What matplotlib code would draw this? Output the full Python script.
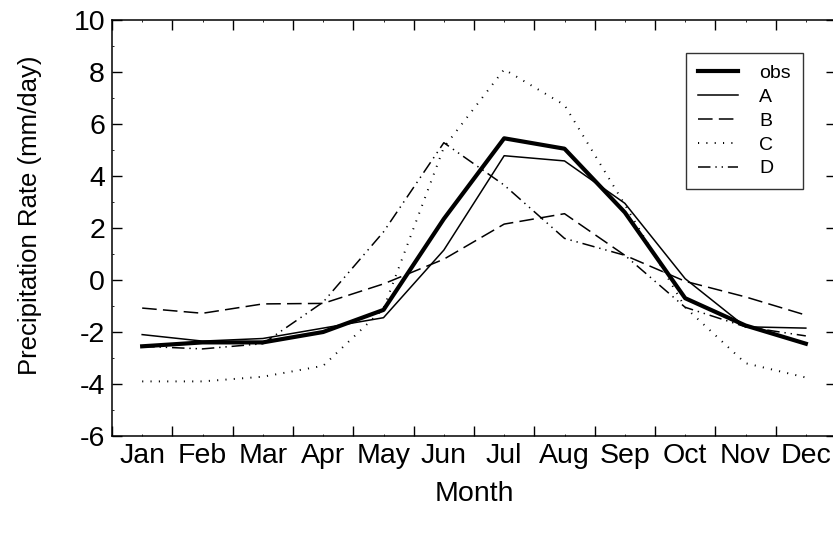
import matplotlib
matplotlib.use('Agg')
import matplotlib.pyplot as plt
import numpy as np

months = ['Jan', 'Feb', 'Mar', 'Apr', 'May', 'Jun',
          'Jul', 'Aug', 'Sep', 'Oct', 'Nov', 'Dec']
obs = [-2.55, -2.4, -2.4, -2.0, -1.15, 2.35, 5.45, 5.05, 2.6, -0.7, -1.75, -2.45]
A = [-2.1, -2.35, -2.25, -1.85, -1.45, 1.15, 4.78, 4.58, 2.95, 0.05, -1.8, -1.85]
B = [-1.08, -1.28, -0.92, -0.9, -0.15, 0.8, 2.15, 2.55, 0.95, -0.05, -0.65, -1.35]
C = [-3.9, -3.9, -3.72, -3.3, -1.1, 5.1, 8.1, 6.73, 2.9, -1.05, -3.2, -3.75]
D = [-2.55, -2.65, -2.45, -0.85, 1.85, 5.28, 3.65, 1.6, 0.95, -1.05, -1.8, -2.15]

plt.rcParams['font.family'] = ['Liberation Sans', 'DejaVu Sans']
plt.rcParams['lines.scale_dashes'] = False
plt.rcParams['axes.unicode_minus'] = False

fig = plt.figure(figsize=(8.33, 5.33), dpi=100)
ax = fig.add_axes([112 / 833, 1 - 436 / 533, 724 / 833, 416 / 533])

x = np.arange(len(months))
ax.plot(x, obs, color='black', lw=3.0, label='obs')
ax.plot(x, A, color='black', lw=1.1, label='A')
ax.plot(x, B, color='black', lw=1.1, linestyle=(0, (10.5, 4.5)), label='B')
ax.plot(x, C, color='black', lw=1.4, linestyle=(0, (0.8, 5.2)), label='C')
ax.plot(x, D, color='black', lw=1.1,
        linestyle=(0, (9, 3.5, 1, 3.5, 1, 3.5)), label='D')

ax.set_xlim(-0.5, 11.5)
ax.set_ylim(-6, 10)
ax.set_xticks(np.arange(-0.5, 12, 1))
ax.set_xticklabels([])
ax.set_xticks(x, minor=True)
ax.set_xticklabels(months, minor=True)
ax.set_yticks(np.arange(-6, 11, 2))
ax.set_yticks(np.arange(-5, 10, 2), minor=True)

ax.tick_params(which='major', direction='in', length=7, width=1,
               top=True, right=True, labelsize=20.5, pad=5)
ax.tick_params(which='minor', direction='in', length=1.5, width=0.6,
               top=True, right=True, labelsize=20.5, pad=5)
for s in ax.spines.values():
    s.set_linewidth(1.1)

ax.set_xlabel('Month', fontsize=20.5, labelpad=9)
ax.set_ylabel('Precipitation Rate (mm/day)', fontsize=18.5)
ax.yaxis.set_label_coords(-0.097, 0.53)

leg = ax.legend(loc='upper right', bbox_to_anchor=(0.954, 0.921),
                borderaxespad=0, fontsize=14, frameon=True, fancybox=False,
                handlelength=2.05, handletextpad=1.1, labelspacing=0.32,
                borderpad=0.6)
leg.get_frame().set_edgecolor('black')
leg.get_frame().set_linewidth(1.0)

fig.savefig('out.png', dpi=100)
